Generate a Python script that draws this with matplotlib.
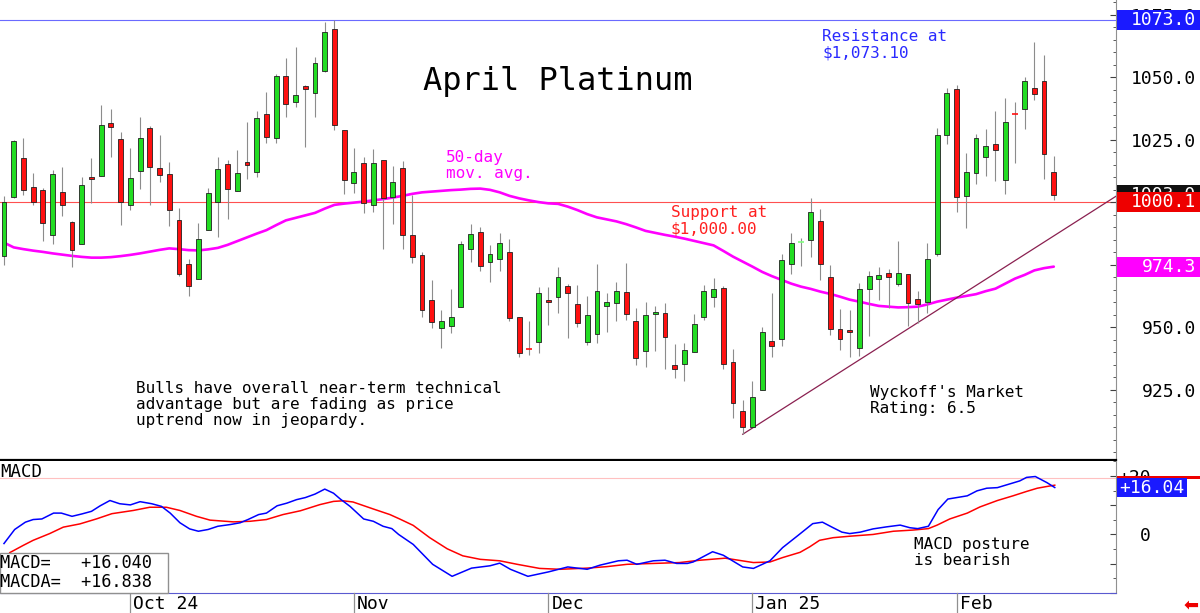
import numpy as np
import matplotlib.pyplot as plt
from matplotlib.patches import Rectangle
from matplotlib.lines import Line2D
from matplotlib.ticker import MultipleLocator
from matplotlib.transforms import blended_transform_factory

W, H = 1200, 613
MONO = 'DejaVu Sans Mono'

# daily candles, mid-Sep 2024 .. mid-Feb 2025
opens = [978.7, 1002.0, 1017.9, 1006.1, 1005.0, 987.1, 1004.3, 992.0, 983.5, 1010.1,
         1010.7, 1031.6, 1025.3, 999.1, 1012.7, 1029.7, 1013.6, 1011.5, 992.9, 975.3,
         969.2, 988.9, 1000.3, 1015.2, 1004.5, 1016.3, 1012.0, 1035.3, 1025.7, 1050.4,
         1040.0, 1046.7, 1043.6, 1052.5, 1069.5, 1028.9, 1007.9, 1015.9, 998.9, 1016.8,
         1002.3, 1013.6, 986.8, 978.9, 960.9, 949.9, 950.5, 958.0, 981.2, 988.0,
         976.3, 977.3, 980.3, 954.1, 941.7, 944.3, 960.9, 962.3, 966.5, 959.2,
         944.3, 947.2, 958.5, 959.6, 964.0, 952.4, 940.6, 955.2, 955.8, 934.9,
         935.2, 940.2, 954.0, 962.2, 965.7, 936.1, 916.6, 910.2, 924.8, 944.6,
         945.3, 975.3, 984.1, 984.9, 992.4, 970.2, 949.2, 948.9, 941.6, 965.2,
         969.2, 971.9, 967.3, 971.3, 961.5, 960.3, 979.2, 1026.9, 1045.2, 1002.7,
         1011.9, 1018.3, 1023.3, 1008.9, 1035.7, 1037.2, 1045.9, 1048.7, 1012.1]
highs = [1002.7, 1025.0, 1025.6, 1011.7, 1005.9, 1012.8, 1014.1, 992.7, 1010.3, 1017.6,
         1038.8, 1037.5, 1028.0, 1021.6, 1034.3, 1030.4, 1027.0, 1016.0, 997.6, 977.3,
         991.9, 1005.6, 1018.3, 1016.9, 1020.9, 1032.0, 1036.5, 1044.3, 1051.3, 1057.6,
         1062.1, 1047.0, 1058.3, 1072.1, 1072.9, 1028.9, 1021.9, 1018.3, 1021.2, 1016.8,
         1014.7, 1016.5, 1002.9, 980.3, 968.9, 956.9, 965.2, 984.5, 991.3, 990.0,
         982.9, 987.6, 985.2, 954.1, 952.7, 966.3, 966.3, 974.3, 967.3, 966.9,
         962.5, 975.2, 963.6, 968.2, 975.6, 957.6, 960.2, 958.5, 959.6, 943.3,
         943.6, 955.3, 966.9, 969.6, 966.5, 941.2, 920.9, 928.5, 950.2, 963.6,
         979.3, 987.6, 985.8, 1001.6, 997.2, 974.9, 957.3, 956.9, 967.9, 972.7,
         974.3, 973.2, 984.7, 971.3, 964.5, 983.6, 1029.9, 1045.6, 1046.9, 1019.6,
         1027.2, 1029.5, 1036.5, 1041.6, 1040.0, 1050.0, 1064.0, 1058.9, 1018.5]
lows = [974.9, 1001.6, 1002.9, 999.1, 984.7, 983.5, 994.7, 974.3, 983.5, 999.6,
        1010.7, 1018.3, 990.9, 996.9, 1005.3, 999.1, 1008.3, 990.7, 970.5, 962.7,
        969.2, 988.9, 986.0, 993.2, 1004.5, 1009.3, 1010.1, 1023.6, 1023.9, 1034.0,
        1038.3, 1022.3, 1034.3, 1052.0, 1028.9, 1003.2, 1003.6, 995.9, 996.3, 981.2,
        991.3, 981.2, 975.6, 954.3, 949.6, 941.6, 947.9, 958.0, 976.3, 972.7,
        968.3, 972.5, 952.5, 938.3, 939.0, 939.6, 950.9, 955.9, 945.6, 950.3,
        942.9, 943.8, 948.2, 952.5, 952.9, 934.9, 934.2, 940.6, 933.2, 929.6,
        928.6, 940.0, 952.9, 958.0, 933.2, 913.6, 907.3, 910.0, 924.8, 938.0,
        942.6, 971.3, 974.5, 978.2, 968.9, 946.9, 940.9, 938.2, 938.5, 946.5,
        960.9, 957.6, 966.5, 950.5, 951.9, 955.6, 978.5, 1023.3, 996.3, 989.6,
        1007.2, 1010.5, 1008.5, 1003.3, 1015.9, 1029.2, 1040.9, 1009.3, 1000.9]
closes = [1000.3, 1024.4, 1004.9, 1000.1, 991.6, 1011.2, 999.1, 980.9, 1006.8, 1009.3,
          1030.8, 1030.1, 1000.1, 1009.9, 1025.7, 1014.3, 1011.1, 996.8, 971.3, 966.7,
          985.2, 1003.6, 1013.3, 1005.5, 1011.7, 1014.9, 1033.6, 1026.0, 1050.4, 1039.2,
          1042.8, 1045.5, 1055.6, 1068.1, 1030.8, 1008.9, 1012.0, 999.6, 1015.6, 1001.6,
          1008.3, 986.9, 978.3, 956.9, 952.3, 952.7, 954.0, 983.2, 987.3, 974.7,
          979.3, 983.7, 953.6, 939.6, 941.5, 963.6, 960.3, 970.0, 963.6, 951.6,
          954.9, 964.6, 960.1, 964.6, 955.3, 937.6, 954.9, 956.0, 946.0, 933.4,
          941.0, 951.4, 964.6, 965.2, 935.2, 919.6, 910.2, 922.2, 948.2, 942.6,
          976.8, 983.6, 984.3, 996.2, 975.2, 949.2, 945.2, 948.2, 965.3, 970.5,
          970.9, 970.3, 971.9, 959.9, 959.3, 977.2, 1026.9, 1043.9, 1002.3, 1012.3,
          1025.6, 1022.5, 1020.9, 1032.1, 1035.5, 1048.5, 1043.2, 1019.2, 1003.0]

ma_50 = [983.9, 982.0, 981.3, 980.7, 980.2, 979.6, 979.1, 978.6, 978.2, 977.9,
         977.9, 978.1, 978.5, 979.0, 979.6, 980.3, 981.0, 981.6, 981.3, 980.9,
         980.8, 981.2, 981.8, 983.0, 984.5, 986.0, 987.5, 988.9, 990.9, 992.8,
         993.8, 994.8, 995.8, 997.5, 999.0, 999.5, 999.9, 1000.3, 1000.8, 1001.3,
         1001.9, 1002.6, 1003.4, 1004.0, 1004.3, 1004.6, 1004.9, 1005.1, 1005.4, 1005.5,
         1005.0, 1004.0, 1002.6, 1001.6, 1000.8, 1000.1, 999.6, 999.4, 998.3, 996.9,
         995.3, 994.0, 993.2, 992.4, 991.3, 990.0, 988.6, 987.8, 987.0, 986.3,
         985.5, 984.6, 983.7, 982.8, 980.6, 978.3, 976.3, 974.3, 972.2, 970.5,
         969.0, 967.5, 966.3, 965.4, 964.3, 963.4, 962.3, 961.1, 960.3, 959.4,
         958.6, 958.3, 958.0, 958.1, 958.3, 959.2, 960.3, 961.1, 961.9, 962.6,
         963.3, 964.5, 965.5, 967.5, 969.5, 971.0, 972.8, 973.7, 974.3]

# MACD (blue) and MACDA (red), read at candle positions
macd_x = [0.0, 1.1, 2.2, 3.0, 3.9, 5.1, 5.9, 7.0, 8.0, 9.0, 9.9, 10.9, 11.9, 13.0, 14.0,
          15.2, 16.2, 17.1, 18.1, 19.1, 20.0, 21.0, 22.0, 23.3, 24.3, 25.1, 26.2, 27.0,
          28.1, 29.1, 30.1, 31.0, 32.0, 33.0, 33.9, 34.6, 35.6, 37.0, 38.0, 39.0, 39.9,
          40.6, 42.1, 44.1, 46.1, 48.1, 50.0, 51.0, 52.1, 53.9, 56.0, 58.0, 60.0, 61.3,
          63.2, 64.1, 65.1, 66.8, 68.0, 69.2, 70.3, 70.9, 72.9, 74.0, 76.0, 77.1, 78.8,
          80.1, 81.7, 83.2, 84.2, 85.3, 86.2, 87.0, 88.1, 89.4, 90.8, 92.2, 93.2, 94.0,
          95.1, 96.1, 97.1, 99.1, 100.1, 101.1, 102.2, 103.5, 104.5, 105.2, 106.1, 107.3, 108.1]
macd_y = [-3.1, 1.7, 4.2, 5.1, 5.3, 7.3, 7.3, 6.2, 7.0, 7.9, 9.8, 11.6, 10.5, 10.1, 11.2,
          10.5, 9.6, 7.3, 4.0, 1.9, 1.1, 1.7, 2.8, 3.4, 4.0, 5.1, 6.8, 7.3,
          9.8, 10.7, 11.9, 12.6, 13.8, 15.5, 14.1, 12.1, 9.6, 5.3, 4.5, 2.8, 2.0,
          0.0, -3.4, -10.2, -14.3, -11.5, -10.7, -9.8, -11.9, -14.3, -12.8, -11.1, -11.9, -10.5,
          -9.0, -8.8, -10.2, -9.0, -8.8, -9.9, -9.9, -9.4, -5.9, -7.1, -11.1, -11.6, -9.0,
          -4.5, -0.3, 3.7, 4.2, 2.3, 0.8, 0.3, 0.8, 1.9, 2.6, 3.2, 2.3, 2.0,
          2.8, 8.5, 12.1, 13.2, 14.9, 15.8, 16.0, 17.3, 18.3, 19.5, 19.8, 17.7, 16.040]
macda_x = [0.6, 2.0, 3.0, 4.7, 6.1, 7.8, 9.5, 11.1, 13.3, 15.0, 16.7, 18.1, 19.8, 21.2,
           23.6, 25.3, 27.0, 28.7, 30.5, 32.5, 33.9, 34.9, 35.9, 38.0, 39.7, 40.7, 42.1,
           43.8, 45.6, 47.2, 49.0, 51.0, 52.8, 55.1, 57.2, 60.0, 62.0, 64.1, 66.8, 69.5,
           71.6, 74.2, 77.1, 78.8, 80.1, 81.9, 82.9, 83.9, 85.3, 87.0, 89.4, 91.5, 93.5,
           95.1, 96.0, 97.3, 99.1, 100.4, 102.2, 103.8, 105.2, 106.3, 107.3, 108.1]
macda_y = [-6.2, -3.7, -2.0, 0.3, 2.5, 3.6, 5.3, 7.1, 8.2, 9.3, 9.3, 8.2, 6.2, 4.9,
           4.3, 4.5, 5.1, 6.8, 8.1, 10.2, 11.3, 11.5, 11.1, 8.7, 6.8, 5.3, 3.1,
           -1.1, -4.9, -7.3, -8.5, -9.0, -10.2, -11.6, -11.9, -11.5, -11.0, -10.2, -9.9, -9.6,
           -8.8, -8.1, -9.6, -9.4, -7.9, -6.1, -4.2, -2.0, -1.1, -0.6, 0.0, 1.1, 1.5,
           2.0, 3.2, 5.3, 7.3, 9.4, 11.6, 13.2, 14.7, 15.8, 16.4, 16.838]

month_idx = [13, 36, 56, 77, 98]
month_labels = ['Oct 24', 'Nov', 'Dec', 'Jan 25', 'Feb']
price_ticks = [925, 950, 975, 1000, 1025, 1050, 1075]
resistance = 1073.1
support = 1000.0
trend_lows = [76, 94]  # candles the uptrend line is drawn through

XLIM = (-0.41, 114.4)

fig = plt.figure(figsize=(W / 100, H / 100), dpi=100)
fig.patch.set_facecolor('white')
ax = fig.add_axes([0, 153 / H, 1116 / W, 460 / H])
ax2 = fig.add_axes([0, 20 / H, 1116 / W, 132 / H])


def px_text(x, y, s, **kw):
    kw.setdefault('family', MONO)
    fig.text(x / W, 1 - y / H, s, va='baseline', ha=kw.pop('ha', 'left'), **kw)


# ---- price panel ----
idx = np.arange(len(closes))
o, h, l, c = map(np.array, (opens, highs, lows, closes))
up = c > o

ax.axhline(resistance, color='#6a6aff', lw=0.8, zorder=1)
ax.axhline(support, color='#ff5050', lw=0.8, zorder=1)
ax.plot(idx, ma_50, color='#ff00ff', lw=1.9, zorder=1.5, solid_capstyle='round')

slope = (l[trend_lows[1]] - l[trend_lows[0]]) / (trend_lows[1] - trend_lows[0])
tx = np.array([trend_lows[0], XLIM[1]])
ax.plot(tx, l[trend_lows[0]] + slope * (tx - trend_lows[0]), color='#8a2050', lw=0.9, zorder=1.6)

ax.vlines(idx, l, h, color='#8c8c8c', lw=0.8, zorder=2)
body = np.abs(c - o) >= 0.5
cols = np.where(up, '#22dd22', '#ff1010')
ax.bar(idx[body], np.abs(c - o)[body], bottom=np.minimum(o, c)[body], width=0.5,
       color=cols[body], edgecolor='#202020', linewidth=0.6, zorder=3)
doji = ~body
ax.hlines(c[doji], idx[doji] - 0.3, idx[doji] + 0.3,
          colors=np.where(up[doji], '#80ff80', '#ff1010'), lw=1.2, zorder=3)

ax.set_xlim(*XLIM)
ax.set_ylim(897.0, 1080.9)
ax.set_xticks([])
ax.yaxis.tick_right()
ax.set_yticks(price_ticks)
ax.set_yticklabels([f'{v:.1f}' for v in price_ticks], family=MONO, fontsize=13)
ax.yaxis.set_minor_locator(MultipleLocator(5))
ax.tick_params(axis='y', which='major', direction='in', length=4, color='#404040', pad=58)
ax.tick_params(axis='y', which='minor', direction='in', length=2.5, color='#404040')
for lbl in ax.get_yticklabels():
    lbl.set_ha('right')
for side in ('top', 'left'):
    ax.spines[side].set_visible(False)
ax.spines['right'].set_color('#909090')
ax.spines['bottom'].set_color('black')
ax.spines['bottom'].set_linewidth(1.6)

# value boxes on the price scale (later boxes sit on top)
bt = blended_transform_factory(ax.transAxes, ax.transData)


def price_box(value, text, fc, z, half=4.0):
    ax.add_patch(Rectangle((1117 / 1116, value - half), 83 / 1116, 2 * half, transform=bt,
                           fc=fc, ec='none', clip_on=False, zorder=z))
    ax.text(1196 / 1116, value, text, transform=bt, ha='right', va='center', color='white',
            family=MONO, fontsize=13, clip_on=False, zorder=z + 0.5)


price_box(resistance, '1073.0', '#1a1aff', 6)
price_box(closes[-1], f'{closes[-1]:.1f}', '#101010', 7)
price_box(1000.1, '1000.1', '#ee0000', 8)
price_box(ma_50[-1], f'{ma_50[-1]:.1f}', '#ff00ff', 9)

# ---- MACD panel ----
ax2.axhline(19.2, color='#ffc0c0', lw=0.8, zorder=1)
ax2.plot(macda_x, macda_y, color='#ff0000', lw=1.1, zorder=2)
ax2.plot(macd_x, macd_y, color='#0000ff', lw=1.1, zorder=3)
ax2.set_xlim(*XLIM)
ax2.set_ylim(-19.6, 25.1)
ax2.set_xticks([])
ax2.yaxis.tick_right()
ax2.set_yticks([-20, -10, 0, 10, 20])
ax2.set_yticklabels(['', '', '0', '', '+20'], family=MONO, fontsize=13)
ax2.yaxis.set_minor_locator(MultipleLocator(5))
ax2.tick_params(axis='y', which='major', direction='in', length=4, color='#404040', pad=25)
ax2.tick_params(axis='y', which='minor', direction='in', length=2.5, color='#404040')
for lbl in ax2.get_yticklabels():
    lbl.set_ha('right')
for side in ('top', 'left'):
    ax2.spines[side].set_visible(False)
ax2.spines['right'].set_color('#909090')
ax2.spines['bottom'].set_color('#5a5ad0')

bt2 = blended_transform_factory(ax2.transAxes, ax2.transData)
ax2.add_patch(Rectangle((1117 / 1116, 19.0), 83 / 1116, 1.1, transform=bt2,
                        fc='#ee0000', ec='none', clip_on=False, zorder=6))
ax2.add_patch(Rectangle((1117 / 1116, macd_y[-1] - 3.4), 70 / 1116, 6.8, transform=bt2,
                        fc='#1a1aff', ec='none', clip_on=False, zorder=7))
ax2.text(1185 / 1116, macd_y[-1], f'{macd_y[-1]:+.2f}', transform=bt2, ha='right', va='center',
         color='white', family=MONO, fontsize=13, clip_on=False, zorder=8)

fig.add_artist(Rectangle((0, 20 / H), 168 / W, 40 / H, transform=fig.transFigure,
                         fc='white', ec='#909090', lw=1, zorder=10))
px_text(0, 568, f'MACD=   {macd_y[-1]:+.3f}', fontsize=12.2, zorder=11)
px_text(0, 587, f'MACDA=  {macda_y[-1]:+.3f}', fontsize=12.2, zorder=11)
px_text(0, 477, 'MACD', fontsize=12.5)

# month separators and labels under the MACD panel
sep_t = blended_transform_factory(ax2.transData, fig.transFigure)
for mi, lab in zip(month_idx, month_labels):
    fig.add_artist(Line2D([mi, mi], [0, 20 / H], transform=sep_t, color='#909090', lw=0.9))
    ax2.annotate(lab, xy=(mi, 0), xycoords=sep_t, xytext=(3, 4), textcoords='offset pixels',
                 ha='left', va='baseline', family=MONO, fontsize=13, annotation_clip=False)

# ---- annotations ----
px_text(423, 90, 'April Platinum', fontsize=23)
px_text(822, 41, 'Resistance at', fontsize=11.5, color='#2a2aff')
px_text(822, 57, '$1,073.10', fontsize=11.5, color='#2a2aff')
px_text(446, 162, '50-day', fontsize=11.5, color='#ff00ff')
px_text(446, 178, 'mov. avg.', fontsize=11.5, color='#ff00ff')
px_text(671, 217, 'Support at', fontsize=11.5, color='#ff2020')
px_text(671, 233, '$1,000.00', fontsize=11.5, color='#ff2020')
px_text(136, 393, 'Bulls have overall near-term technical', fontsize=11.5)
px_text(136, 409, 'advantage but are fading as price', fontsize=11.5)
px_text(136, 425, 'uptrend now in jeopardy.', fontsize=11.5)
px_text(870, 397, "Wyckoff's Market", fontsize=11.5)
px_text(870, 413, 'Rating: 6.5', fontsize=11.5)
px_text(914, 549, 'MACD posture', fontsize=11.5)
px_text(914, 565, 'is bearish', fontsize=11.5)
px_text(1199, 610, '\u2b05', fontsize=13, color='#ee0000', ha='right', family='DejaVu Sans')

fig.savefig('out.png', dpi=100)
